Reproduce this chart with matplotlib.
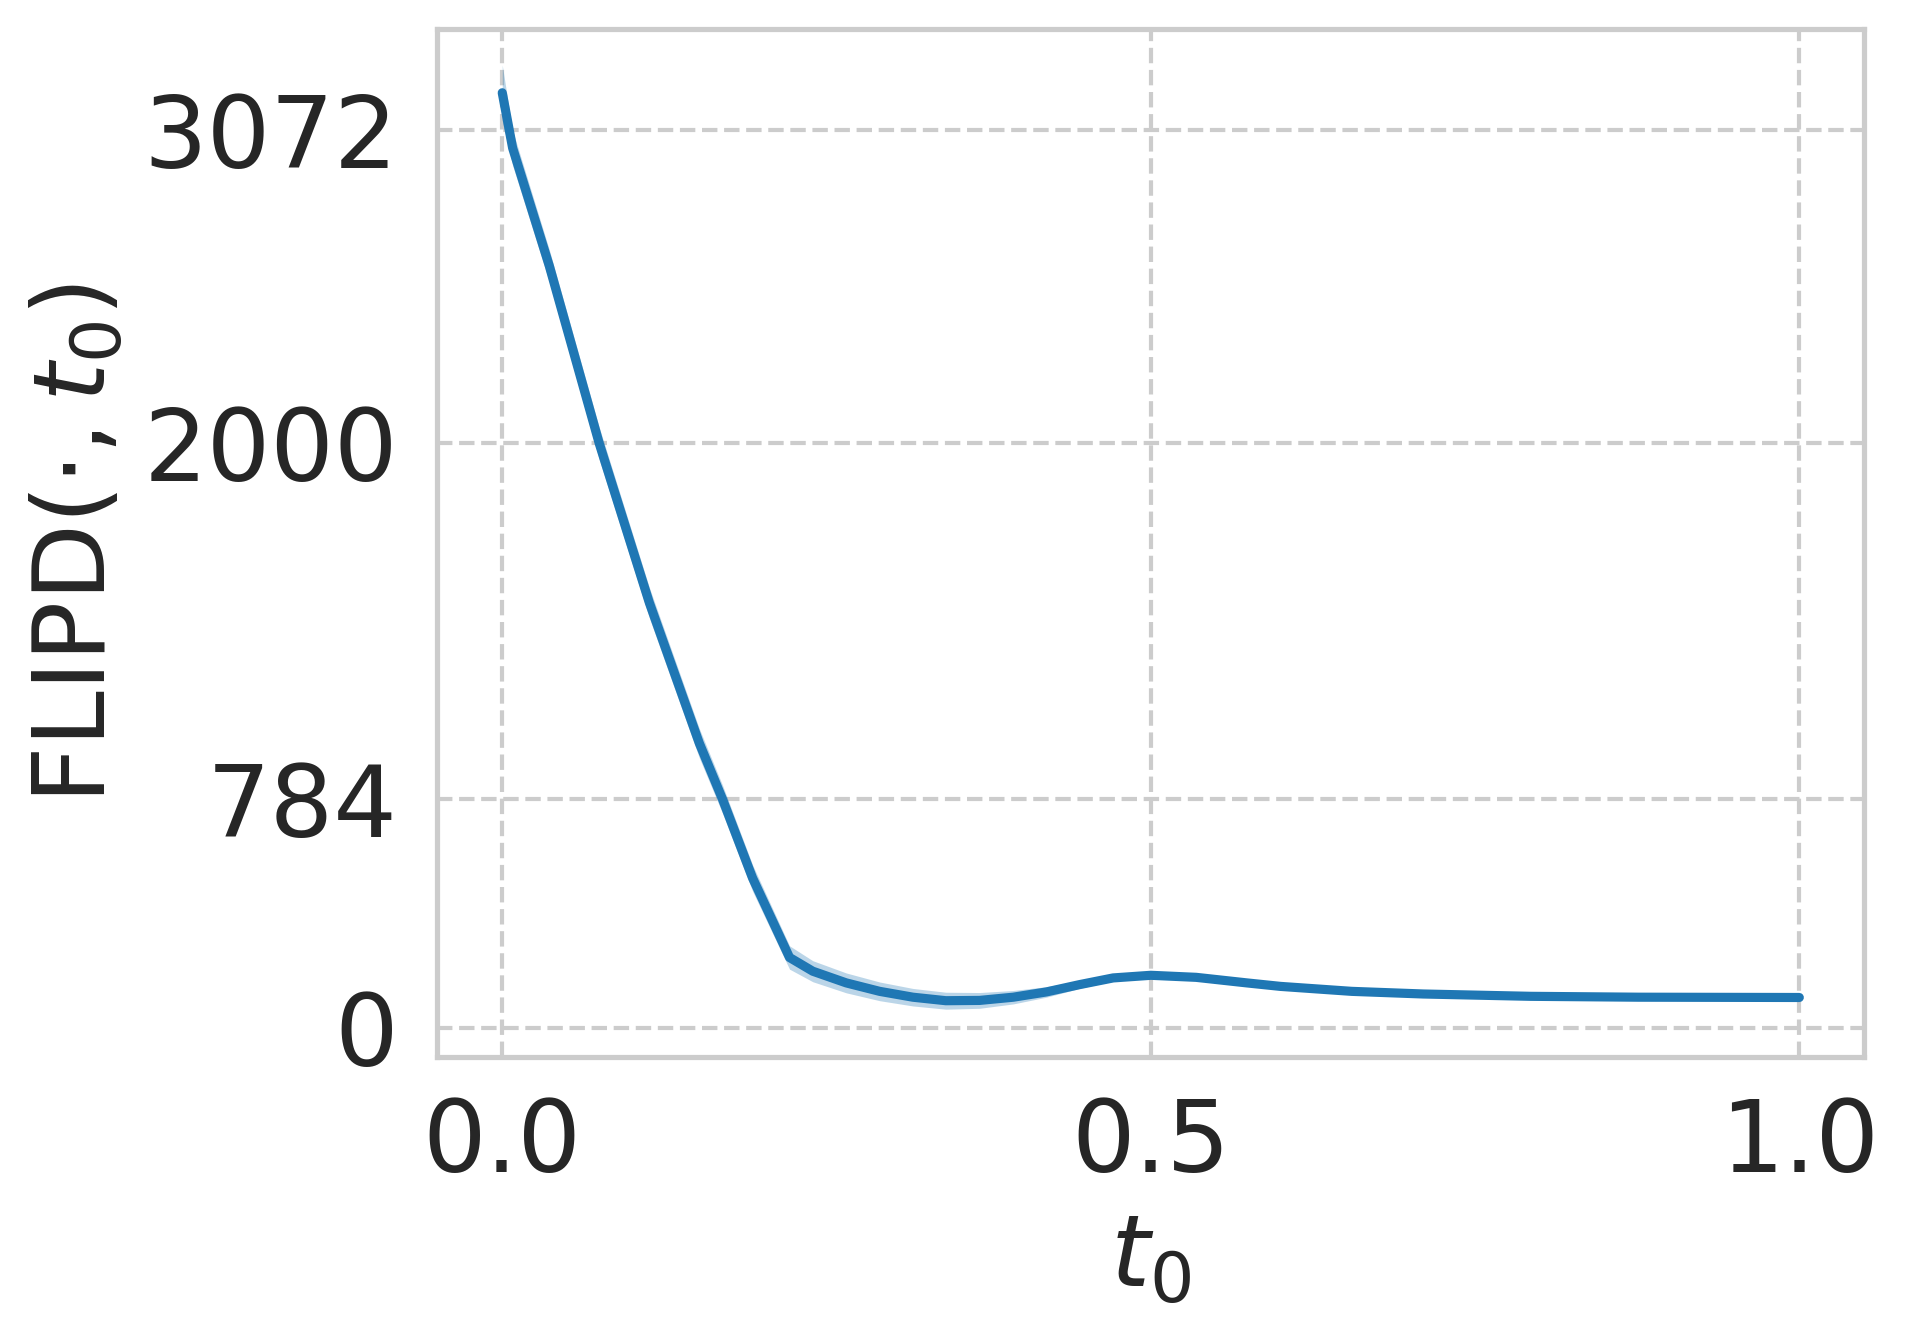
import matplotlib
matplotlib.use("Agg")
import matplotlib.pyplot as plt
import seaborn as sns
import numpy as np

# FLIPD estimate vs t0 (mean and spread over runs)
t0 = [0.0, 0.008, 0.0363, 0.0748, 0.1134, 0.152, 0.170, 0.193, 0.2215,
      0.2394, 0.2652, 0.291, 0.3166, 0.342, 0.368, 0.394, 0.4195, 0.445,
      0.471, 0.5, 0.535, 0.574, 0.6, 0.655, 0.710, 0.793, 0.876, 1.0]
flipd = [3201, 3012, 2608, 2000, 1455, 973, 780, 512, 240,
         193, 153, 124, 104, 92, 93, 104, 122, 147,
         170, 179, 172, 153, 141, 124, 115, 107, 104, 103]
spread = [95, 60, 55, 55, 52, 50, 48, 45, 40,
          36, 34, 32, 30, 29, 27, 23, 18, 13,
          10, 8, 6, 5, 4, 3, 3, 2, 2, 2]

sns.set_theme(style="whitegrid")
plt.rcParams["grid.linestyle"] = "--"
plt.rcParams["axes.edgecolor"] = ".8"

fig, ax = plt.subplots(figsize=(19.1 / 3, 13.36 / 3), dpi=300)
fig.subplots_adjust(left=0.229, right=0.976, top=0.978, bottom=0.209)

t = np.asarray(t0)
m = np.asarray(flipd)
s = np.asarray(spread)
ax.fill_between(t, m - s, m + s, color="tab:blue", alpha=0.3, linewidth=0)
ax.plot(t, m, color="tab:blue", linewidth=2.2, solid_capstyle="round")

ax.set_xlim(-0.05, 1.05)
ax.set_ylim(-100, 3418)
ax.set_xticks([0.0, 0.5, 1.0])
ax.set_xticklabels(["0.0", "0.5", "1.0"])
ax.set_yticks([0, 784, 2000, 3072])
ax.set_yticklabels(["0", "784", "2000", "3072"])
ax.tick_params(labelsize=24)
ax.set_xlabel(r"$t_0$", fontsize=24)
ax.set_ylabel(r"FLIPD$(\cdot, t_0)$", fontsize=24)

fig.savefig("out.png", dpi=300)
